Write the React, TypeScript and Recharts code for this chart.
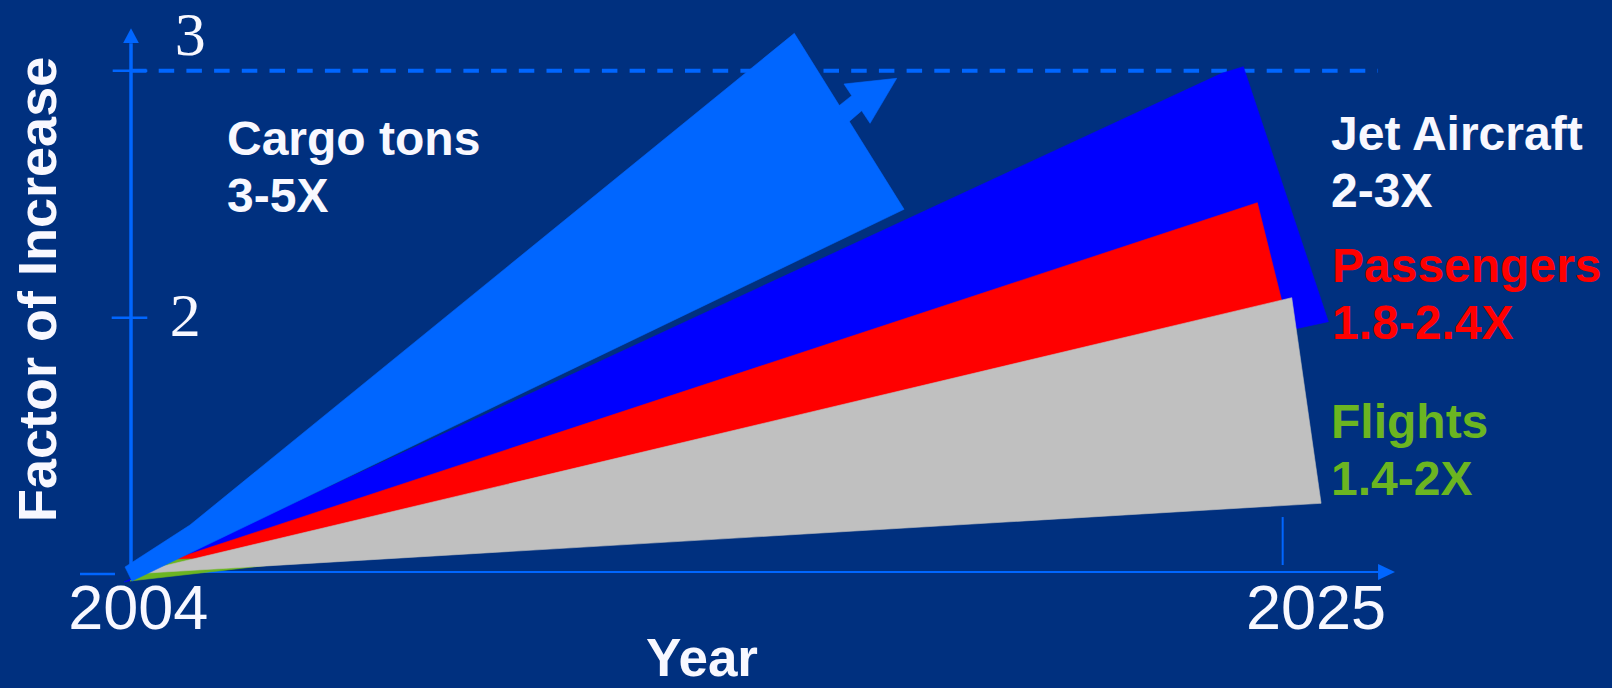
import React from 'react';
import { ScatterChart, Scatter, XAxis, YAxis, ReferenceLine } from 'recharts';

// ---- tick values ----
const X_TICKS = [2004, 2025];
const Y_TICKS = [2, 3];

// ---- wedge outlines (year, factor of increase) ----
const cargoTons = [
  { x: 2003.891, y: 0.9907 },
  { x: 2005.076, y: 1.1607 },
  { x: 2016.095, y: 3.1514 },
  { x: 2018.096, y: 2.4389 },
  { x: 2004.018, y: 0.934 },
];
const cargoArrow = [
  { x: 2016.859, y: 2.849 },
  { x: 2017.142, y: 2.8992 },
  { x: 2017.001, y: 2.9462 },
  { x: 2017.962, y: 2.9692 },
  { x: 2017.476, y: 2.787 },
  { x: 2017.324, y: 2.8381 },
  { x: 2017.042, y: 2.7842 },
];
const jetAircraft = [
  { x: 2003.872, y: 0.93 },
  { x: 2023.889, y: 2.9895 },
  { x: 2024.283, y: 3.0162 },
  { x: 2025.833, y: 1.9838 },
];
const passengers = [
  { x: 2003.964, y: 0.9623 },
  { x: 2024.538, y: 2.4656 },
  { x: 2025.061, y: 1.9988 },
];
const flights = [
  { x: 2003.982, y: 0.934 },
  { x: 2004.565, y: 1.019 },
  { x: 2005.076, y: 1.0231 },
  { x: 2006.626, y: 1.0008 },
];
const flightsRange = [
  { x: 2003.982, y: 0.9623 },
  { x: 2025.165, y: 2.081 },
  { x: 2025.7, y: 1.2486 },
];

// ---- labels ----
const SERIES_LABELS = [
  { name: 'Cargo tons', range: '3-5X', color: '#F8F8FF' },
  { name: 'Jet Aircraft', range: '2-3X', color: '#F8F8FF' },
  { name: 'Passengers', range: '1.8-2.4X', color: '#FF0000' },
  { name: 'Flights', range: '1.4-2X', color: '#6BB521' },
];

const BG = '#00307F';
const AXIS = '#0066FF';
const SANS = "'Liberation Sans', Arial, Helvetica, sans-serif";
const SERIF = "'Liberation Serif', 'Times New Roman', serif";

const NoPoint = () => <g />;

const XTick = (props: any) => {
  const { x, y, payload } = props;
  const dx = payload.value === 2004 ? 7.3 : 33.3;
  return (
    <text x={x + dx} y={y + 39.8} textAnchor="middle" fill="#F8F8FF" fontFamily={SANS} fontSize={63}>
      {payload.value}
    </text>
  );
};

const YTick = (props: any) => {
  const { x, y, payload } = props;
  const dx = payload.value === 3 ? 98.5 : 93.5;
  const dy = payload.value === 3 ? -15.5 : 18.3;
  return (
    <text x={x + dx} y={y + dy} textAnchor="start" fill="#F8F8FF" fontFamily={SERIF} fontSize={62}>
      {payload.value}
    </text>
  );
};

const wedge = (data: any[], color: string, name: string) => (
  <Scatter
    key={name}
    name={name}
    data={data}
    dataKey="y"
    fill={color}
    line={{ fill: color, stroke: color, strokeWidth: 0.6 }}
    lineType="joint"
    lineJointType="linearClosed"
    shape={NoPoint}
    isAnimationActive={false}
    legendType="none"
  />
);

export default function App() {
  const labelPos = [
    { x: 227, y1: 155, y2: 211.7 },
    { x: 1331, y1: 150, y2: 207.3 },
    { x: 1332, y1: 281.7, y2: 339.3 },
    { x: 1331, y1: 437.7, y2: 495 },
  ];
  return (
    <div style={{ position: 'fixed', left: 0, top: 0, width: 1612, height: 688, background: BG, overflow: 'hidden' }}>
      <svg width={0} height={0} style={{ position: 'absolute' }}>
        <defs>
          <marker id="arrowY" viewBox="0 0 15 16" refX={0} refY={8} markerWidth={15} markerHeight={16} markerUnits="userSpaceOnUse" orient="auto">
            <path d="M0,0 L15,8 L0,16 Z" fill={AXIS} />
          </marker>
          <marker id="arrowX" viewBox="0 0 17 16" refX={0} refY={8} markerWidth={17} markerHeight={16} markerUnits="userSpaceOnUse" orient="auto">
            <path d="M0,0 L17,8 L0,16 Z" fill={AXIS} />
          </marker>
        </defs>
      </svg>
      <div style={{ position: 'absolute', left: 0, top: 0 }}>
        <ScatterChart width={1612} height={688} margin={{ top: 28, right: 216.9, bottom: 97.6, left: 75.16 }}>
          <XAxis
            type="number"
            dataKey="x"
            domain={[2003, 2027.05]}
            ticks={X_TICKS}
            interval={0}
            height={1}
            tickSize={0}
            tickMargin={0}
            axisLine={false}
            tickLine={false}
            tick={<XTick />}
          />
          <YAxis
            type="number"
            dataKey="y"
            domain={[0.9, 3.173]}
            ticks={Y_TICKS}
            interval={0}
            width={1}
            tickSize={0}
            tickMargin={0}
            axisLine={false}
            tickLine={false}
            tick={<YTick />}
          />
          <ReferenceLine ifOverflow="visible" segment={[{ x: 2004, y: 3 }, { x: 2026.739, y: 3 }]} stroke={AXIS} strokeWidth={4} strokeDasharray="15.5 12.2" />
          <ReferenceLine ifOverflow="visible" segment={[{ x: 2003.666, y: 3 }, { x: 2004.297, y: 3 }]} stroke={AXIS} strokeWidth={2.5} />
          <ReferenceLine ifOverflow="visible" segment={[{ x: 2003.648, y: 2 }, { x: 2004.297, y: 2 }]} stroke={AXIS} strokeWidth={2.5} />
          <ReferenceLine ifOverflow="visible" segment={[{ x: 2003.07, y: 0.9623 }, { x: 2003.708, y: 0.9623 }]} stroke={AXIS} strokeWidth={2.5} />
          <ReferenceLine ifOverflow="visible" segment={[{ x: 2025, y: 0.9988 }, { x: 2025, y: 1.193 }]} stroke={AXIS} strokeWidth={2} />
          <ReferenceLine ifOverflow="visible" segment={[{ x: 2004, y: 0.97045 }, { x: 2004, y: 3.1109 }]} stroke={AXIS} strokeWidth={3.5} markerEnd="url(#arrowY)" />
          <ReferenceLine ifOverflow="visible" segment={[{ x: 2004, y: 0.97045 }, { x: 2026.739, y: 0.97045 }]} stroke={AXIS} strokeWidth={2.2} markerEnd="url(#arrowX)" />
          {wedge(jetAircraft, '#0000FF', 'Jet Aircraft')}
          {wedge(passengers, '#FF0000', 'Passengers')}
          {wedge(flights, '#6BB521', 'Flights')}
          {wedge(flightsRange, '#C0C0C0', 'Flights range')}
          {wedge(cargoTons, '#0066FF', 'Cargo tons')}
          {wedge(cargoArrow, '#0066FF', 'Cargo arrow')}
        </ScatterChart>
      </div>
      <svg width={1612} height={688} style={{ position: 'absolute', left: 0, top: 0, pointerEvents: 'none' }}>
        {SERIES_LABELS.map((s, i) => (
          <g key={s.name} fontFamily={SANS} fontWeight="bold" fontSize={48} fill={s.color}>
            <text x={labelPos[i].x} y={labelPos[i].y1}>{s.name}</text>
            <text x={labelPos[i].x} y={labelPos[i].y2}>{s.range}</text>
          </g>
        ))}
        <text x={702} y={676} textAnchor="middle" fontFamily={SANS} fontWeight="bold" fontSize={53} fill="#F8F8FF">Year</text>
        <text transform="translate(56,289.4) rotate(-90)" textAnchor="middle" fontFamily={SANS} fontWeight="bold" fontSize={54} fill="#F8F8FF">Factor of Increase</text>
      </svg>
    </div>
  );
}
